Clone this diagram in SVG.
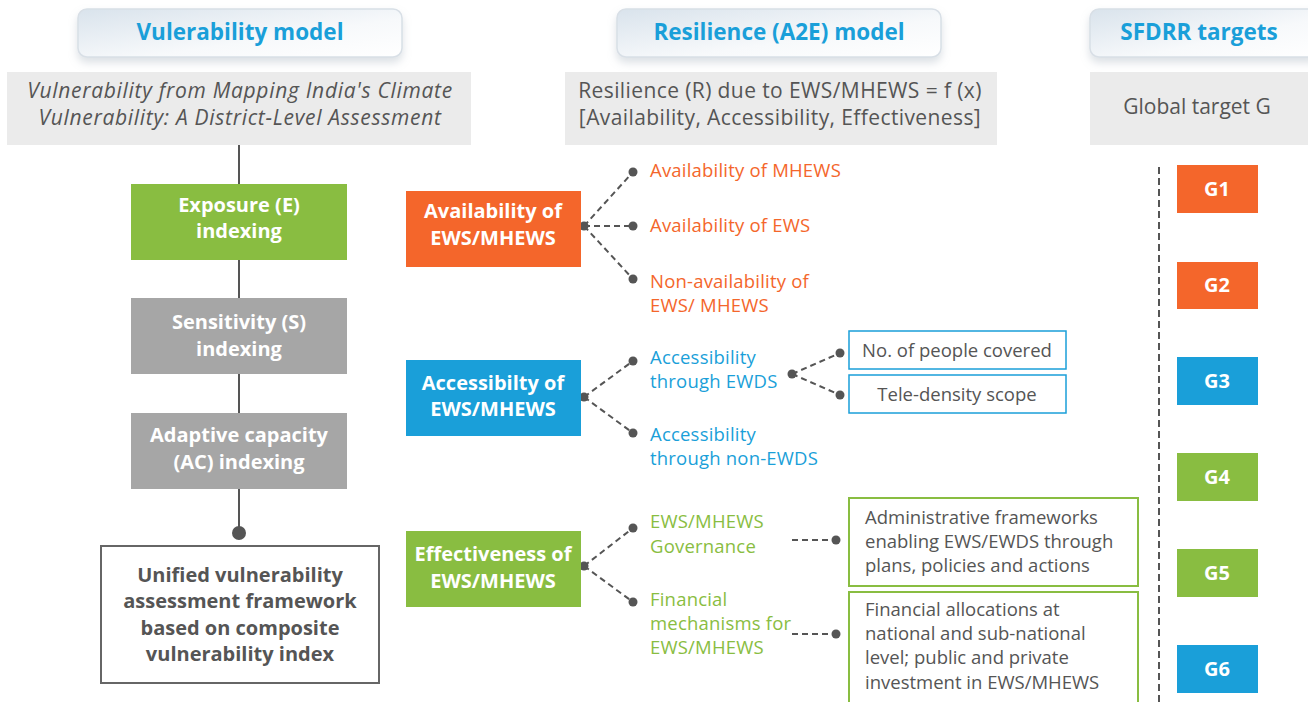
<svg xmlns="http://www.w3.org/2000/svg" width="1308" height="702" viewBox="0 0 1308 702">
<defs>
<linearGradient id="tabg" x1="0" y1="0" x2="1" y2="1">
<stop offset="0" stop-color="#d9e3ec"/>
<stop offset="0.6" stop-color="#f7f9fb"/>
<stop offset="1" stop-color="#ffffff"/>
</linearGradient>
<filter id="sh" x="-10%" y="-20%" width="120%" height="160%">
<feDropShadow dx="0" dy="5" stdDeviation="4" flood-color="#9aa8b5" flood-opacity="0.35"/>
</filter>
<marker id="dot" viewBox="0 0 10 10" refX="5" refY="5" markerWidth="10" markerHeight="10" markerUnits="userSpaceOnUse">
<circle cx="5" cy="5" r="4.5" fill="#555"/>
</marker>
</defs>
<style>
text{font-family:"Open Sans","Noto Sans","Liberation Sans",sans-serif}
.tab{fill:url(#tabg);stroke:#d8dfe6;stroke-width:1.5;filter:url(#sh)}
.tabt{font-size:22.5px;font-weight:bold;fill:#1a9fd9;text-anchor:middle}
.gbox{fill:#ebebeb}
.gt{font-size:21px;fill:#555;text-anchor:middle}
.wt{font-size:20px;font-weight:bold;fill:#fff;text-anchor:middle}
.green{fill:#89bd41}
.grey{fill:#a6a6a6}
.orange{fill:#f4662b}
.blue{fill:#1a9fd9}
.ot,.bt,.grt{font-size:18.5px;letter-spacing:0.2px}
.ot{fill:#f4662b}
.bt{fill:#1a9fd9}
.grt{fill:#89bd41}
.dk{font-size:18.5px;fill:#555}
.dash{stroke:#555;stroke-width:2;stroke-dasharray:6 4;fill:none}
.solid{stroke:#555;stroke-width:2;fill:none}
</style>

<g id="hdr-vuln"><rect class="tab" x="78" y="9" width="324" height="48" rx="9"/><text class="tabt" x="240" y="40">Vulerability model</text></g>
<g id="hdr-res"><rect class="tab" x="617" y="9" width="324" height="48" rx="9"/><text class="tabt" x="779" y="40">Resilience (A2E) model</text></g>
<g id="hdr-sfdrr"><rect class="tab" x="1090" y="9" width="230" height="48" rx="9"/><text class="tabt" x="1199" y="40">SFDRR targets</text></g>

<g id="sub-vuln"><rect class="gbox" x="7" y="72" width="464" height="73"/>
<text class="gt" x="240" y="98" font-style="italic" letter-spacing="0.7">Vulnerability from Mapping India's Climate</text>
<text class="gt" x="240" y="125" font-style="italic" letter-spacing="0.7">Vulnerability: A District-Level Assessment</text></g>
<g id="sub-res"><rect class="gbox" x="565" y="72" width="432" height="73"/>
<text class="gt" x="780" y="98" letter-spacing="0.4">Resilience (R) due to EWS/MHEWS = f (x)</text>
<text class="gt" x="780" y="125" letter-spacing="0.4">[Availability, Accessibility, Effectiveness]</text></g>
<g id="sub-sfdrr"><rect class="gbox" x="1090" y="72" width="218" height="73"/>
<text class="gt" x="1197" y="114">Global target G</text></g>

<g id="connectors">
<line class="solid" x1="239" y1="145" x2="239" y2="184"/>
<line class="solid" x1="239" y1="260" x2="239" y2="298"/>
<line class="solid" x1="239" y1="374" x2="239" y2="413"/>
<line class="solid" x1="239" y1="489" x2="239" y2="533"/>
<circle cx="239" cy="533" r="7" fill="#555"/>
<circle cx="584" cy="226" r="4.5" fill="#555"/>
<line class="dash" x1="584" y1="226" x2="633" y2="172" marker-end="url(#dot)"/>
<line class="dash" x1="584" y1="226" x2="633" y2="226" marker-end="url(#dot)"/>
<line class="dash" x1="584" y1="226" x2="633" y2="279" marker-end="url(#dot)"/>
<circle cx="584" cy="397" r="4.5" fill="#555"/>
<line class="dash" x1="584" y1="397" x2="633" y2="361" marker-end="url(#dot)"/>
<line class="dash" x1="584" y1="397" x2="633" y2="433" marker-end="url(#dot)"/>
<circle cx="792" cy="374" r="4.5" fill="#555"/>
<line class="dash" x1="792" y1="374" x2="840" y2="353" marker-end="url(#dot)"/>
<line class="dash" x1="792" y1="374" x2="840" y2="395" marker-end="url(#dot)"/>
<circle cx="584" cy="566" r="4.5" fill="#555"/>
<line class="dash" x1="584" y1="566" x2="633" y2="528" marker-end="url(#dot)"/>
<line class="dash" x1="584" y1="566" x2="633" y2="602" marker-end="url(#dot)"/>
<line class="dash" x1="792" y1="540" x2="836" y2="540" marker-end="url(#dot)"/>
<line class="dash" x1="792" y1="634" x2="836" y2="634" marker-end="url(#dot)"/>
<line stroke="#555" stroke-width="2" stroke-dasharray="7 4" x1="1159" y1="167" x2="1159" y2="702"/>
</g>

<g id="exposure"><rect class="green" x="131" y="184" width="216" height="76"/>
<text class="wt" x="239" y="212">Exposure (E)</text><text class="wt" x="239" y="238">indexing</text></g>
<g id="sensitivity"><rect class="grey" x="131" y="298" width="216" height="76"/>
<text class="wt" x="239" y="329">Sensitivity (S)</text><text class="wt" x="239" y="356">indexing</text></g>
<g id="adaptive"><rect class="grey" x="131" y="413" width="216" height="76"/>
<text class="wt" x="239" y="442">Adaptive capacity</text><text class="wt" x="239" y="469">(AC) indexing</text></g>
<g id="unified"><rect x="101" y="546" width="278" height="137" fill="#fff" stroke="#666" stroke-width="2"/>
<text class="wt" style="fill:#555" x="240" y="582">Unified vulnerability</text>
<text class="wt" style="fill:#555" x="240" y="608">assessment framework</text>
<text class="wt" style="fill:#555" x="240" y="635">based on composite</text>
<text class="wt" style="fill:#555" x="240" y="661">vulnerability index</text></g>

<g id="availability"><rect class="orange" x="406" y="191" width="175" height="76"/>
<text class="wt" x="493" y="218">Availability of</text><text class="wt" x="493" y="245">EWS/MHEWS</text></g>
<g id="accessibility"><rect class="blue" x="406" y="360" width="175" height="76"/>
<text class="wt" x="493" y="390">Accessibilty of</text><text class="wt" x="493" y="416">EWS/MHEWS</text></g>
<g id="effectiveness"><rect class="green" x="406" y="531" width="175" height="76"/>
<text class="wt" x="493" y="561">Effectiveness of</text><text class="wt" x="493" y="588">EWS/MHEWS</text></g>

<g id="av-mhews"><text class="ot" x="650" y="177">Availability of MHEWS</text></g>
<g id="av-ews"><text class="ot" x="650" y="232">Availability of EWS</text></g>
<g id="non-av"><text class="ot" x="650" y="288">Non-availability of</text><text class="ot" x="650" y="312">EWS/ MHEWS</text></g>
<g id="acc-ewds"><text class="bt" x="650" y="364">Accessibility</text><text class="bt" x="650" y="388">through EWDS</text></g>
<g id="acc-non"><text class="bt" x="650" y="441">Accessibility</text><text class="bt" x="650" y="465">through non-EWDS</text></g>
<g id="people"><rect x="849" y="331" width="217" height="38" fill="#fff" stroke="#1a9fd9" stroke-width="1.5"/><text class="dk" x="957" y="357" text-anchor="middle">No. of people covered</text></g>
<g id="tele"><rect x="849" y="375" width="217" height="38" fill="#fff" stroke="#1a9fd9" stroke-width="1.5"/><text class="dk" x="957" y="401" text-anchor="middle">Tele-density scope</text></g>
<g id="gov"><text class="grt" x="650" y="528">EWS/MHEWS</text><text class="grt" x="650" y="553">Governance</text></g>
<g id="fin"><text class="grt" x="650" y="606">Financial</text><text class="grt" x="650" y="630">mechanisms for</text><text class="grt" x="650" y="654">EWS/MHEWS</text></g>
<g id="admin"><rect x="849" y="498" width="289" height="88" fill="#fff" stroke="#89bd41" stroke-width="2"/>
<text class="dk" x="865" y="524">Administrative frameworks</text>
<text class="dk" x="865" y="548">enabling EWS/EWDS through</text>
<text class="dk" x="865" y="572">plans, policies and actions</text></g>
<g id="finalloc"><rect x="849" y="592" width="289" height="120" fill="#fff" stroke="#89bd41" stroke-width="2"/>
<text class="dk" x="865" y="616">Financial allocations at</text>
<text class="dk" x="865" y="640">national and sub-national</text>
<text class="dk" x="865" y="664">level; public and private</text>
<text class="dk" x="865" y="689">investment in EWS/MHEWS</text></g>

<g id="g1"><rect class="orange" x="1177" y="165" width="81" height="48"/><text class="wt" x="1217" y="196" font-size="21">G1</text></g>
<g id="g2"><rect class="orange" x="1177" y="262" width="81" height="47"/><text class="wt" x="1217" y="292" font-size="21">G2</text></g>
<g id="g3"><rect class="blue" x="1177" y="357" width="81" height="48"/><text class="wt" x="1217" y="388" font-size="21">G3</text></g>
<g id="g4"><rect class="green" x="1177" y="453" width="81" height="48"/><text class="wt" x="1217" y="484" font-size="21">G4</text></g>
<g id="g5"><rect class="green" x="1177" y="549" width="81" height="48"/><text class="wt" x="1217" y="580" font-size="21">G5</text></g>
<g id="g6"><rect class="blue" x="1177" y="645" width="81" height="48"/><text class="wt" x="1217" y="676" font-size="21">G6</text></g>
</svg>
